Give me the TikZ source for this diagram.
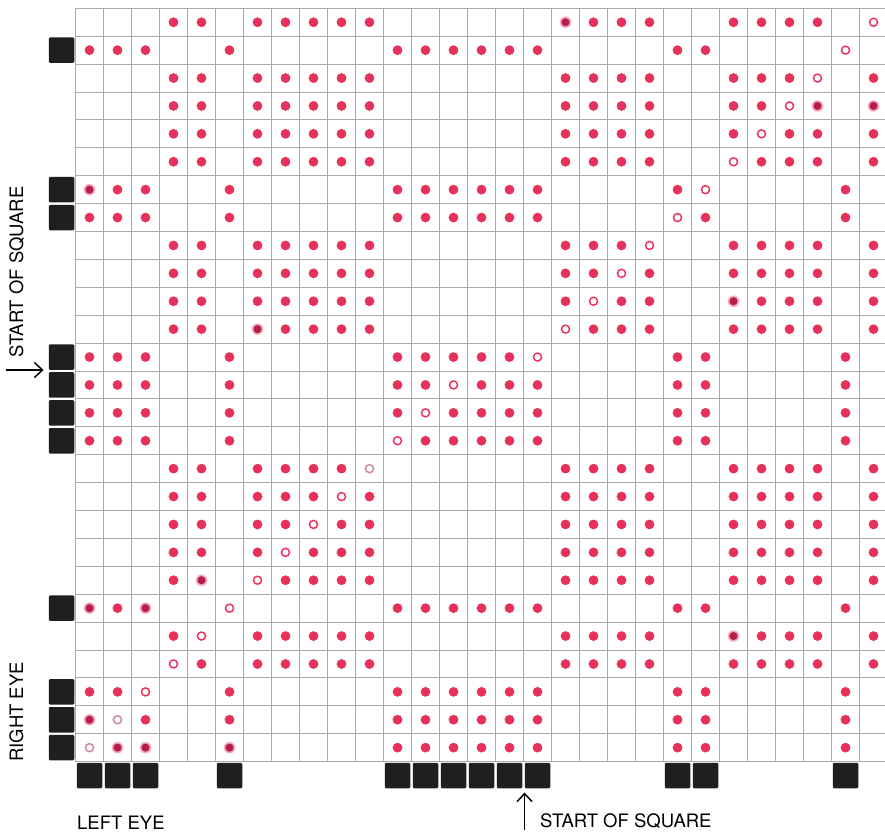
\documentclass[tikz,border=0pt]{standalone}
\usepackage{fontspec}
\setmainfont{TeX Gyre Heros}
\usepackage{tikz}
\usetikzlibrary{arrows.meta}
\definecolor{dotred}{HTML}{E6325A}
\definecolor{dotdark}{HTML}{B51F4A}
\definecolor{dotfaint}{HTML}{C7899C}

\begin{document}
\begin{tikzpicture}[
    x=1pt, y=-1pt,
    gridline/.style={draw=black!33, line width=0.9pt},
    tab/.style={fill=black!88, rounded corners=1.2pt, minimum size=25.5pt, inner sep=0pt},
    lbl/.style={font=\fontsize{18.5}{21}\selectfont, inner sep=0pt},
    arr/.style={-{Straight Barb[length=8pt, width=15pt]}, line width=1.5pt},
]
  \useasboundingbox (0,0) rectangle (885,832);

  \begin{scope}[shift={(75.5,8.3)}, x=28pt, y=-27.9pt]
    % the grid
    \foreach \c in {0,...,29} \draw[gridline] (\c,0) -- (\c,27);
    \foreach \r in {0,...,27} \draw[gridline] (0,\r) -- (29,\r);

    % dots: marked rows take the marked columns, the others the rest
    \foreach \r in {1,6,7,12,13,14,15,21,24,25,26}
      \foreach \c in {0,1,2,5,11,12,13,14,15,16,21,22,27}
        \fill[dotred] (\c+0.5,\r+0.5) circle (4.9pt);
    \foreach \r in {0,2,3,4,5,8,9,10,11,16,17,18,19,20,22,23}
      \foreach \c in {3,4,6,7,8,9,10,17,18,19,20,23,24,25,26,28}
        \fill[dotred] (\c+0.5,\r+0.5) circle (4.9pt);

    % open ones
    \foreach \r/\c in {0/28,1/27,2/26,3/25,4/24,5/23,6/22,7/21,8/20,9/19,10/18,11/17,
                       12/16,13/13,14/12,15/11,17/9,18/8,19/7,20/6,21/5,22/4,23/3,24/2} {
      \fill[white] (\c+0.5,\r+0.5) circle (5.2pt);
      \draw[dotred, line width=1.4pt] (\c+0.5,\r+0.5) circle (4pt);
    }
    \foreach \r/\c in {16/10,25/1,26/0} {
      \fill[white] (\c+0.5,\r+0.5) circle (5.2pt);
      \draw[dotfaint, line width=1.4pt] (\c+0.5,\r+0.5) circle (4pt);
    }

    % smudged ones
    \foreach \r/\c in {0/17,3/26,3/28,6/0,10/23,11/6,20/4,21/0,21/2,22/23,25/0,26/1,26/2,26/5} {
      \fill[dotred!40] (\c+0.5,\r+0.5) circle (5.8pt);
      \fill[dotdark] (\c+0.5,\r+0.5) circle (4.1pt);
    }

    % black tabs
    \foreach \r in {1,6,7,12,13,14,15,21,24,25,26}
      \node[tab] (l\r) at (-0.5,\r+0.5) {};
    \foreach \c in {0,1,2,5,11,12,13,14,15,16,21,22,27}
      \node[tab] (b\c) at (\c+0.5,27.5) {};
  \end{scope}

  \node[lbl, rotate=90, anchor=base] (sidestart) at (23,272) {START OF SQUARE};
  \node[lbl, rotate=90, anchor=base] (righteye) at (23,712) {RIGHT EYE};
  \node[lbl, anchor=base west] (lefteye) at (77,829) {LEFT EYE};
  \node[lbl, anchor=base west] (bottomstart) at (540,827) {START OF SQUARE};

  \coordinate (tailL) at (6,0);
  \coordinate (tailB) at (0,830);
  \draw[arr] (tailL |- l12.south west) -- ([xshift=-5pt]l12.south west);
  \draw[arr] (tailB -| b16.south west) -- ([yshift=-4pt]b16.south west);
\end{tikzpicture}
\end{document}
